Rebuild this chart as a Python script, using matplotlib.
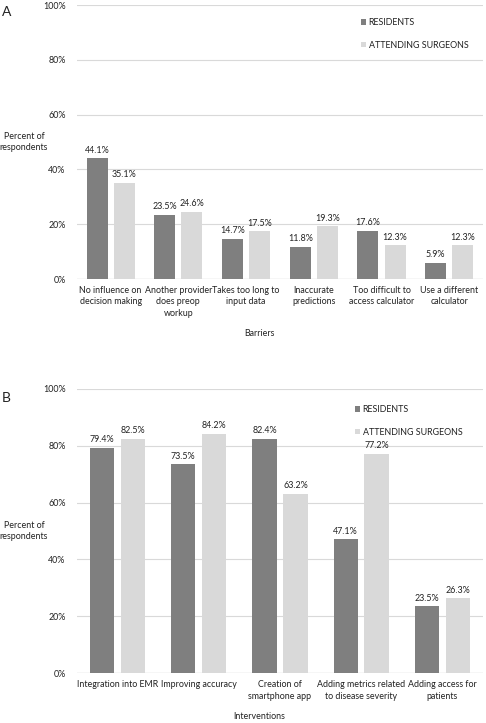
import numpy as np
import matplotlib
matplotlib.use('Agg')
from matplotlib import pyplot as plt
from matplotlib.ticker import PercentFormatter

# data, panel A
barriers = ['No influence on\ndecision making', 'Another provider\ndoes preop\nworkup',
            'Takes too long to\ninput data', 'Inaccurate\npredictions',
            'Too difficult to\naccess calculator', 'Use a different\ncalculator']
residents_a = [44.1, 23.5, 14.7, 11.8, 17.6, 5.9]
attending_a = [35.1, 24.6, 17.5, 19.3, 12.3, 12.3]

# data, panel B
interventions = ['Integration into EMR', 'Improving accuracy', 'Creation of\nsmartphone app',
                 'Adding metrics related\nto disease severity', 'Adding access for\npatients']
residents_b = [79.4, 73.5, 82.4, 47.1, 23.5]
attending_b = [82.5, 84.2, 63.2, 77.2, 26.3]

plt.rcParams['font.family'] = ['Lato', 'DejaVu Sans']
DARK = '#7f7f7f'
LIGHT = '#d9d9d9'
FS = 6.4

fig = plt.figure(figsize=(4.86, 7.23), dpi=100)
ax_a = fig.add_axes([0.158, 0.614, 0.836, 0.379])
ax_b = fig.add_axes([0.158, 0.069, 0.836, 0.393])


def draw(ax, cats, res, att, off, w, xlabel, leg_xy):
    x = np.arange(len(cats))
    b1 = ax.bar(x - off, res, w, color=DARK, label='RESIDENTS', zorder=3)
    b2 = ax.bar(x + off, att, w, color=LIGHT, label='ATTENDING SURGEONS', zorder=3)
    for bars, vals in ((b1, res), (b2, att)):
        for r, v in zip(bars, vals):
            ax.text(r.get_x() + r.get_width() / 2, v + 1.3, '%.1f%%' % v,
                    ha='center', va='bottom', fontsize=FS, color='#222222')
    ax.set_ylim(0, 100)
    ax.set_xlim(-0.5, len(cats) - 0.5)
    ax.set_yticks(range(0, 101, 20))
    ax.yaxis.set_major_formatter(PercentFormatter(decimals=0))
    ax.set_xticks(x)
    ax.set_xticklabels(cats, fontsize=FS, color='#222222', linespacing=1.35)
    ax.tick_params(axis='y', length=0, pad=8, labelsize=FS, labelcolor='#222222')
    ax.tick_params(axis='x', length=0, pad=5)
    ax.grid(axis='y', color=LIGHT, linewidth=0.8, zorder=0)
    for s in ax.spines.values():
        s.set_visible(False)
    ax.axhline(0, color='#cfcfcf', linewidth=0.9, zorder=2)
    ax.text(-0.13, 0.5, 'Percent of\nrespondents', transform=ax.transAxes,
            ha='center', va='center', fontsize=FS, color='#222222', linespacing=1.4)
    ax.set_xlabel(xlabel, fontsize=FS, color='#222222')
    leg = ax.legend(loc='upper left', bbox_to_anchor=leg_xy, frameon=False,
                    fontsize=FS, handlelength=0.6, handleheight=0.6,
                    handletextpad=0.3, labelspacing=1.5, borderaxespad=0)
    for t in leg.get_texts():
        t.set_color('#222222')


draw(ax_a, barriers, residents_a, attending_a, 0.2, 0.31, 'Barriers', (0.69, 0.965))
ax_a.xaxis.set_label_coords(0.45, -0.183)
draw(ax_b, interventions, residents_b, attending_b, 0.19, 0.30, 'Interventions', (0.675, 0.955))
ax_b.xaxis.set_label_coords(0.45, -0.138)

fig.text(0.004, 0.983, 'A', fontsize=10, ha='left', va='center', color='#222222')
fig.text(0.004, 0.449, 'B', fontsize=10, ha='left', va='center', color='#222222')

fig.savefig('out.png', dpi=100, facecolor='white')
